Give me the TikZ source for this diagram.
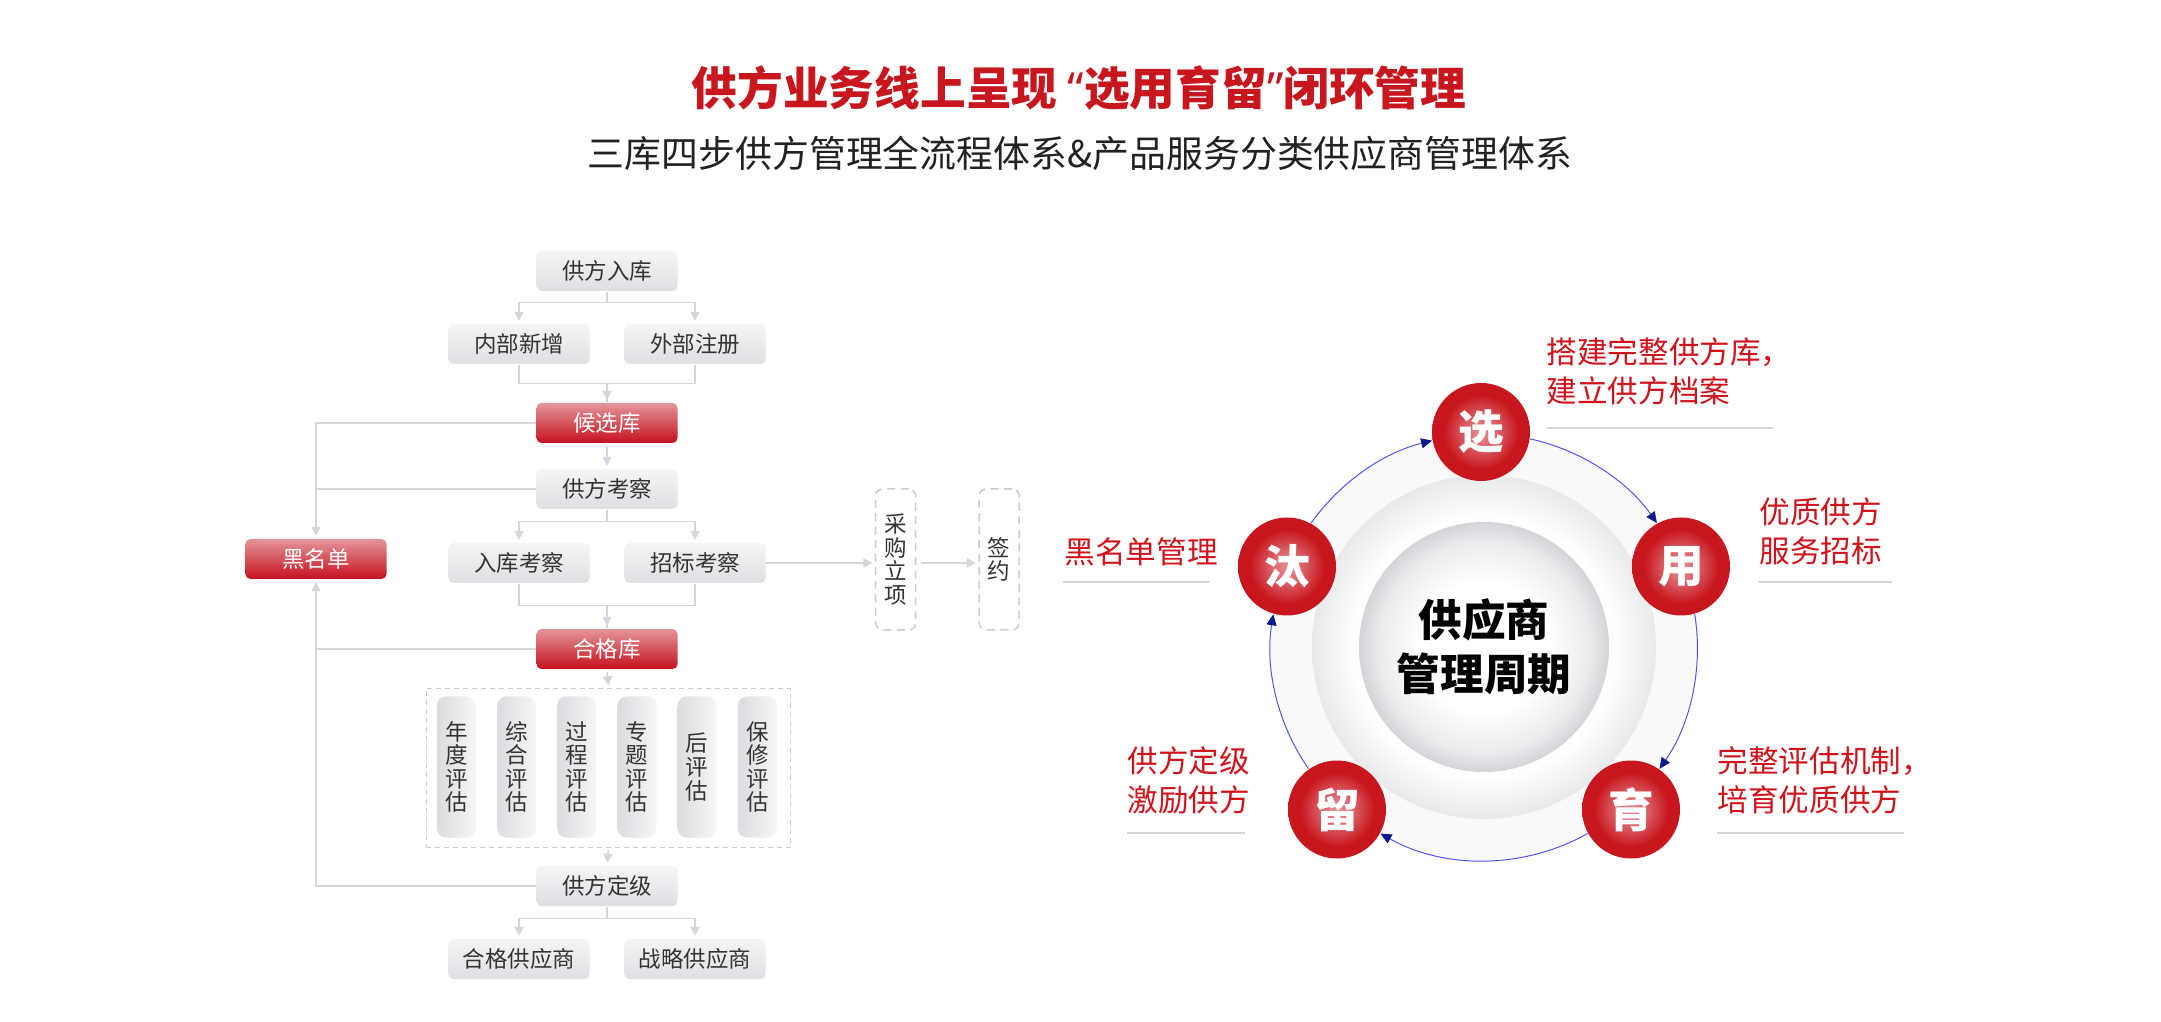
\documentclass[tikz,border=0pt]{standalone}
\usepackage{fontspec}
\setmainfont{Noto Sans CJK SC}
\newfontfamily\quotefont{Noto Sans}
\usetikzlibrary{arrows.meta, positioning, calc}

\definecolor{titlered}{HTML}{C8161E}
\definecolor{notered}{HTML}{D0121B}
\definecolor{subtext}{HTML}{222222}
\definecolor{boxtext}{HTML}{333333}
\definecolor{linegray}{HTML}{D3D6DB}
\definecolor{dashgray}{HTML}{C9CCD1}
\definecolor{rulegray}{HTML}{D4D5DA}
\definecolor{boxtop}{HTML}{F4F5F6}
\definecolor{boxbot}{HTML}{DDDFE2}
\definecolor{redtop}{HTML}{E4959A}
\definecolor{redbot}{HTML}{C5111D}
\definecolor{pilldark}{HTML}{DADCDF}
\definecolor{pilllight}{HTML}{F5F6F7}
\definecolor{cycblue}{HTML}{5055F0}
\definecolor{cycnavy}{HTML}{0D1A8A}
\definecolor{ballred}{HTML}{C8161E}
\definecolor{ballpink}{HTML}{E58E94}
\definecolor{ringfill}{HTML}{F9F9FA}
\definecolor{midedge}{HTML}{E8E9EB}
\definecolor{coreedge}{HTML}{D2D4D8}

\pgfdeclareradialshading{redball}{\pgfpoint{0bp}{0bp}}{color(0bp)=(ballpink); color(7bp)=(ballpink!70!ballred); color(19bp)=(ballred); color(50bp)=(ballred)}
\pgfdeclareradialshading{midshade}{\pgfpoint{0bp}{0bp}}{color(0bp)=(white); color(19bp)=(white!97!midedge); color(25bp)=(midedge); color(50bp)=(midedge)}
\pgfdeclareradialshading{coreshade}{\pgfpoint{0bp}{0bp}}{color(0bp)=(white); color(13bp)=(white); color(21bp)=(white!55!coreedge); color(25bp)=(coreedge); color(50bp)=(coreedge)}

\begin{document}
\begin{tikzpicture}[x=0.1mm, y=0.1mm,
  flow/.style={draw=linegray, line width=0.15mm},
  flowarrow/.style={flow, -{Triangle[length=0.9mm, width=0.9mm]}, shorten >=0.25mm},
  graybox/.style={rounded corners=0.5mm, minimum width=14.1mm, minimum height=4mm,
    inner sep=0pt, top color=boxtop, bottom color=boxbot, text=boxtext,
    font=\fontsize{6.4}{7}\selectfont},
  redbox/.style={graybox, top color=redtop, bottom color=redbot, text=white},
  pill/.style={rounded corners=0.9mm, minimum width=3.9mm, minimum height=14.1mm,
    inner sep=0pt, left color=pilldark, right color=pilllight, align=center,
    text=boxtext, font=\fontsize{6.4}{6.7}\selectfont},
  dashframe/.style={draw=dashgray, line width=0.1mm, dash pattern=on 0.5mm off 0.4mm},
  stagebox/.style={draw=dashgray, line width=0.15mm, dash pattern=on 0.8mm off 0.55mm,
    rounded corners=0.7mm, minimum width=4mm, minimum height=14.1mm, inner sep=0pt,
    align=center, text=boxtext, font=\fontsize{6.4}{6.7}\selectfont},
  bubble/.style={circle, minimum size=9.8mm, inner sep=0pt, shading=redball,
    text=white, font=\bfseries\fontsize{13}{13}\selectfont},
  cycarrow/.style={draw=cycblue, line width=0.1mm,
    -{Triangle[length=1.1mm, width=1mm, color=cycnavy]}},
  note/.style={anchor=west, align=left, inner sep=0pt, text=notered,
    font=\fontsize{8.7}{11}\selectfont},
  noterule/.style={draw=rulegray, line width=0.15mm}
]
  \useasboundingbox (0,0) rectangle (2161,-1022);
  \fill[white] (0,0) rectangle (2161,-1022);

  % Title
  \node[font=\bfseries\fontsize{13}{14}\selectfont, text=titlered] (title)
    at (1079,-88) {供方业务线上呈现 {\quotefont “}选用育留{\quotefont ”}闭环管理};
  \node[font=\fontsize{10.5}{12}\selectfont, text=subtext] (subtitle)
    at (1080,-153) {三库四步供方管理全流程体系\&产品服务分类供应商管理体系};

  % Flow boxes
  \node[graybox] (gfrk) at (607,-271) {供方入库};
  \node[graybox] (nbxz) at (519,-344) {内部新增};
  \node[graybox] (wbzc) at (695,-344) {外部注册};
  \node[redbox] (hxk) at (607,-423) {候选库};
  \node[graybox] (gfkc) at (607,-489) {供方考察};
  \node[graybox] (rkkc) at (519,-563) {入库考察};
  \node[graybox] (zbkc) at (695,-563) {招标考察};
  \node[redbox] (hmd) at (316,-559) {黑名单};
  \node[redbox] (hgk) at (607,-649) {合格库};
  \node[graybox] (gfdj) at (607,-886) {供方定级};
  \node[graybox] (hggys) at (519,-959) {合格供应商};
  \node[graybox] (zlgys) at (695,-959) {战略供应商};

  % Evaluation pills
  \node[dashframe, minimum width=36.44mm, minimum height=15.9mm, inner sep=0pt]
    (evalframe) at (608.5,-767.8) {};
  \foreach \i/\txt in {0/{年\\度\\评\\估}, 1/{综\\合\\评\\估}, 2/{过\\程\\评\\估},
                       3/{专\\题\\评\\估}, 4/{后\\评\\估}, 5/{保\\修\\评\\估}}
    \node[pill] (pill\i) at ({456.4+60.2*\i},-767) {\txt};

  % Purchase stages
  \node[stagebox] (cglx) at (895.7,-559.5) {采\\购\\立\\项};
  \node[stagebox] (qy) at (999.2,-559.5) {签\\约};

  % Intake connectors
  \draw[flowarrow] (gfrk.south) -- ++(0,-11) -| (nbxz.north);
  \draw[flowarrow] (gfrk.south) -- ++(0,-11) -| (wbzc.north);
  \draw[flowarrow] (nbxz.south) -- ++(0,-19) -| (hxk.north);
  \draw[flow] (wbzc.south) -- ++(0,-19) -| (hxk.north);

  % Review connectors
  \draw[flowarrow, shorten <=0.3mm] (hxk.south) -- (gfkc.north);
  \draw[flowarrow] (gfkc.south) -- ++(0,-12) -| (rkkc.north);
  \draw[flowarrow] (gfkc.south) -- ++(0,-12) -| (zbkc.north);
  \draw[flowarrow] (rkkc.south) -- ++(0,-22) -| (hgk.north);
  \draw[flow] (zbkc.south) -- ++(0,-22) -| (hgk.north);

  % Evaluation connectors
  \draw[flowarrow, shorten <=0.2mm] (hgk.south) -- (evalframe.north);
  \draw[flowarrow, shorten <=0.2mm] (evalframe.south) -- (gfdj.north);
  \draw[flowarrow] (gfdj.south) -- ++(0,-12) -| (hggys.north);
  \draw[flowarrow] (gfdj.south) -- ++(0,-12) -| (zlgys.north);

  % Blacklist connectors
  \draw[flowarrow] (hxk.west) -| (hmd.north);
  \draw[flow] (gfkc.west) -- (gfkc.west -| hmd.north);
  \draw[flowarrow] (gfdj.west) -| (hmd.south);
  \draw[flow] (hgk.west) -- (hgk.west -| hmd.south);

  % Purchase connectors
  \draw[flowarrow] (zbkc.east) -- (zbkc.east -| cglx.west);
  \draw[flowarrow, shorten <=0.5mm] (cglx.east |- zbkc.east) -- (zbkc.east -| qy.west);

  % Cycle rings
  \coordinate (hub) at (1484,-647);
  \fill[ringfill] (hub) circle (213);
  \shade[shading=midshade] (hub) circle (172);
  \node[circle, minimum size=25mm, inner sep=0pt, shading=coreshade, align=center,
    font=\bfseries\fontsize{12.4}{15.4}\selectfont] (core) at (hub) {供应商\\管理周期};

  % Cycle stages
  \node[bubble] (xuan) at (1481,-432) {选};
  \node[bubble] (yong) at (1681,-566.5) {用};
  \node[bubble] (yu) at (1631,-809.5) {育};
  \node[bubble] (liu) at (1337,-809.5) {留};
  \node[bubble] (tai) at (1287,-566.5) {汰};

  % Cycle arcs (bend = half the arc, so they follow the ring)
  \draw[cycarrow] (xuan.-8) to[bend left=21.1, looseness=0.88] (yong.119);
  \draw[cycarrow] (yong.-74) to[bend left=22, looseness=0.88] (yu.55);
  \draw[cycarrow] (yu.209) to[bend left=29.2, looseness=0.91] (liu.-29);
  \draw[cycarrow] (liu.125) to[bend left=22, looseness=0.88] (tai.254);
  \draw[cycarrow] (tai.61) to[bend left=20.3, looseness=0.88] (xuan.190);

  % Notes
  \node[note] (notexuan) at (1546,-371) {搭建完整供方库，\\建立供方档案};
  \draw[noterule] (1547,-428) -- (1773,-428);
  \node[note] (noteyong) at (1759,-531) {优质供方\\服务招标};
  \draw[noterule] (1758,-582) -- (1892,-582);
  \node[note] (noteyu) at (1717,-780.5) {完整评估机制，\\培育优质供方};
  \draw[noterule] (1717,-833) -- (1904,-833);
  \node[note] (notetai) at (1064,-552) {黑名单管理};
  \draw[noterule] (1063,-582) -- (1210,-582);
  \node[note] (noteliu) at (1127,-780.5) {供方定级\\激励供方};
  \draw[noterule] (1127,-833) -- (1245,-833);
\end{tikzpicture}
\end{document}
